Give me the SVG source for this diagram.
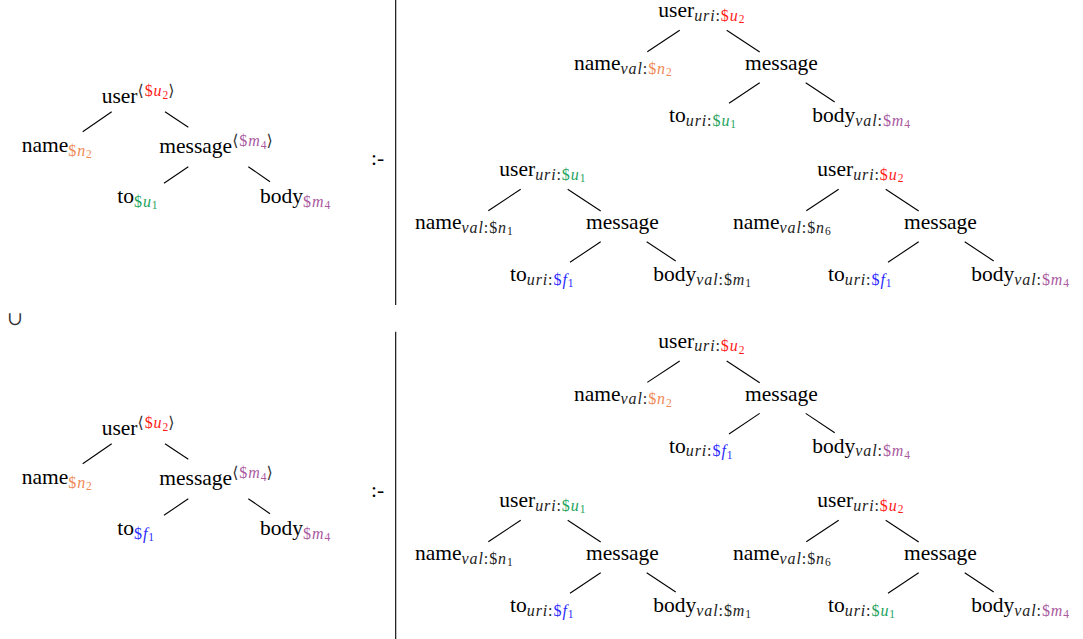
<svg xmlns="http://www.w3.org/2000/svg" width="1083" height="639" viewBox="0 0 1083 639">
<style>
.t{font-family:"Liberation Serif","DejaVu Serif",serif;font-size:21.5px;fill:#000}
.s{font-size:16px;letter-spacing:0.9px}
.ss{font-size:11.5px}
.i{font-style:italic}
.k{fill:#222}
.r{fill:#ff1a1a}
.g{fill:#22a35c}
.o{fill:#f08a55}
.p{fill:#aa5aa0}
.b{fill:#2b2bff}
.br{fill:#333}
.cn line{stroke:#000;stroke-width:1.1}
.sep{stroke:#000;stroke-width:1.1}
</style>
<rect width="1083" height="639" fill="#fff"/>

<!-- separators -->
<line class="sep" x1="395.7" y1="0" x2="395.7" y2="305"/>
<line class="sep" x1="395.7" y1="331.7" x2="395.7" y2="639"/>
<text class="t" x="371" y="165">:-</text>
<text class="t" x="371" y="497">:-</text>
<text x="7" y="325" style="font-family:'DejaVu Serif',serif;font-size:19px;fill:#333">∪</text>

<!-- left tree upper -->
<g id="lhs1">
  <g id="lhs1-user"><text class="t" x="101.7" y="103">user<tspan class="s br" dy="-7">⟨</tspan><tspan class="s r">$</tspan><tspan class="s i r">u</tspan><tspan class="ss r" dy="2.5">2</tspan><tspan class="s br" dy="-2.5">⟩</tspan></text></g>
  <g id="lhs1-name"><text class="t" x="21.7" y="152">name<tspan class="s o" dy="3.5">$</tspan><tspan class="s i o">n</tspan><tspan class="ss o" dy="2.5">2</tspan></text></g>
  <g id="lhs1-message"><text class="t" x="159.3" y="153">message<tspan class="s br" dy="-7">⟨</tspan><tspan class="s p">$</tspan><tspan class="s i p">m</tspan><tspan class="ss p" dy="2.5">4</tspan><tspan class="s br" dy="-2.5">⟩</tspan></text></g>
  <g id="lhs1-to"><text class="t" x="117.3" y="203">to<tspan class="s g" dy="3.5">$</tspan><tspan class="s i g">u</tspan><tspan class="ss g" dy="2.5">1</tspan></text></g>
  <g id="lhs1-body"><text class="t" x="260" y="203">body<tspan class="s p" dy="3.5">$</tspan><tspan class="s i p">m</tspan><tspan class="ss p" dy="2.5">4</tspan></text></g>
  <g class="cn">
    <line x1="111.7" y1="111.7" x2="82.7" y2="131.7"/>
    <line x1="165" y1="111.7" x2="188.3" y2="127.3"/>
    <line x1="188.3" y1="166.7" x2="164" y2="183.3"/>
    <line x1="248.3" y1="166.7" x2="270" y2="181.7"/>
  </g>
</g>

<!-- left tree lower -->
<g id="lhs2" transform="translate(0,332)">
  <g id="lhs2-user"><text class="t" x="101.7" y="103">user<tspan class="s br" dy="-7">⟨</tspan><tspan class="s r">$</tspan><tspan class="s i r">u</tspan><tspan class="ss r" dy="2.5">2</tspan><tspan class="s br" dy="-2.5">⟩</tspan></text></g>
  <g id="lhs2-name"><text class="t" x="21.7" y="152">name<tspan class="s o" dy="3.5">$</tspan><tspan class="s i o">n</tspan><tspan class="ss o" dy="2.5">2</tspan></text></g>
  <g id="lhs2-message"><text class="t" x="159.3" y="153">message<tspan class="s br" dy="-7">⟨</tspan><tspan class="s p">$</tspan><tspan class="s i p">m</tspan><tspan class="ss p" dy="2.5">4</tspan><tspan class="s br" dy="-2.5">⟩</tspan></text></g>
  <g id="lhs2-to"><text class="t" x="117.3" y="203">to<tspan class="s b" dy="3.5">$</tspan><tspan class="s i b">f</tspan><tspan class="ss b" dy="2.5">1</tspan></text></g>
  <g id="lhs2-body"><text class="t" x="260" y="203">body<tspan class="s p" dy="3.5">$</tspan><tspan class="s i p">m</tspan><tspan class="ss p" dy="2.5">4</tspan></text></g>
  <g class="cn">
    <line x1="111.7" y1="111.7" x2="82.7" y2="131.7"/>
    <line x1="165" y1="111.7" x2="188.3" y2="127.3"/>
    <line x1="188.3" y1="166.7" x2="164" y2="183.3"/>
    <line x1="248.3" y1="166.7" x2="270" y2="181.7"/>
  </g>
</g>

<!-- right trees -->
<g id="t1" transform="translate(159,-159)">
  <g id="t1-user"><text class="t" x="499.3" y="176">user<tspan class="s i k" dy="3.5">uri</tspan><tspan class="s k">:</tspan><tspan class="s r">$</tspan><tspan class="s i r">u</tspan><tspan class="ss r" dy="2.5">2</tspan></text></g>
  <g id="t1-name"><text class="t" x="415" y="229">name<tspan class="s i k" dy="3.5">val</tspan><tspan class="s k">:</tspan><tspan class="s o">$</tspan><tspan class="s i o">n</tspan><tspan class="ss o" dy="2.5">2</tspan></text></g>
  <g id="t1-message"><text class="t" x="586" y="229">message</text></g>
  <g id="t1-to"><text class="t" x="510" y="281">to<tspan class="s i k" dy="3.5">uri</tspan><tspan class="s k">:</tspan><tspan class="s g">$</tspan><tspan class="s i g">u</tspan><tspan class="ss g" dy="2.5">1</tspan></text></g>
  <g id="t1-body"><text class="t" x="653.3" y="281">body<tspan class="s i k" dy="3.5">val</tspan><tspan class="s k">:</tspan><tspan class="s p">$</tspan><tspan class="s i p">m</tspan><tspan class="ss p" dy="2.5">4</tspan></text></g>
  <g class="cn">
    <line x1="520.7" y1="189.3" x2="488.3" y2="210.7"/>
    <line x1="567.7" y1="189.3" x2="600.7" y2="211"/>
    <line x1="600.7" y1="241.7" x2="570" y2="262.3"/>
    <line x1="646.7" y1="241.7" x2="675.7" y2="261"/>
  </g>
</g>

<g id="t2">
  <g id="t2-user"><text class="t" x="499.3" y="176">user<tspan class="s i k" dy="3.5">uri</tspan><tspan class="s k">:</tspan><tspan class="s g">$</tspan><tspan class="s i g">u</tspan><tspan class="ss g" dy="2.5">1</tspan></text></g>
  <g id="t2-name"><text class="t" x="415" y="229">name<tspan class="s i k" dy="3.5">val</tspan><tspan class="s k">:$</tspan><tspan class="s i k">n</tspan><tspan class="ss k" dy="2.5">1</tspan></text></g>
  <g id="t2-message"><text class="t" x="586" y="229">message</text></g>
  <g id="t2-to"><text class="t" x="510" y="281">to<tspan class="s i k" dy="3.5">uri</tspan><tspan class="s k">:</tspan><tspan class="s b">$</tspan><tspan class="s i b">f</tspan><tspan class="ss b" dy="2.5">1</tspan></text></g>
  <g id="t2-body"><text class="t" x="653.3" y="281">body<tspan class="s i k" dy="3.5">val</tspan><tspan class="s k">:$</tspan><tspan class="s i k">m</tspan><tspan class="ss k" dy="2.5">1</tspan></text></g>
  <g class="cn">
    <line x1="520.7" y1="189.3" x2="488.3" y2="210.7"/>
    <line x1="567.7" y1="189.3" x2="600.7" y2="211"/>
    <line x1="600.7" y1="241.7" x2="570" y2="262.3"/>
    <line x1="646.7" y1="241.7" x2="675.7" y2="261"/>
  </g>
</g>

<g id="t3" transform="translate(318,0)">
  <g id="t3-user"><text class="t" x="499.3" y="176">user<tspan class="s i k" dy="3.5">uri</tspan><tspan class="s k">:</tspan><tspan class="s r">$</tspan><tspan class="s i r">u</tspan><tspan class="ss r" dy="2.5">2</tspan></text></g>
  <g id="t3-name"><text class="t" x="415" y="229">name<tspan class="s i k" dy="3.5">val</tspan><tspan class="s k">:$</tspan><tspan class="s i k">n</tspan><tspan class="ss k" dy="2.5">6</tspan></text></g>
  <g id="t3-message"><text class="t" x="586" y="229">message</text></g>
  <g id="t3-to"><text class="t" x="510" y="281">to<tspan class="s i k" dy="3.5">uri</tspan><tspan class="s k">:</tspan><tspan class="s b">$</tspan><tspan class="s i b">f</tspan><tspan class="ss b" dy="2.5">1</tspan></text></g>
  <g id="t3-body"><text class="t" x="653.3" y="281">body<tspan class="s i k" dy="3.5">val</tspan><tspan class="s k">:</tspan><tspan class="s p">$</tspan><tspan class="s i p">m</tspan><tspan class="ss p" dy="2.5">4</tspan></text></g>
  <g class="cn">
    <line x1="520.7" y1="189.3" x2="488.3" y2="210.7"/>
    <line x1="567.7" y1="189.3" x2="600.7" y2="211"/>
    <line x1="600.7" y1="241.7" x2="570" y2="262.3"/>
    <line x1="646.7" y1="241.7" x2="675.7" y2="261"/>
  </g>
</g>

<g id="t4" transform="translate(159,171.7)">
  <g id="t4-user"><text class="t" x="499.3" y="176">user<tspan class="s i k" dy="3.5">uri</tspan><tspan class="s k">:</tspan><tspan class="s r">$</tspan><tspan class="s i r">u</tspan><tspan class="ss r" dy="2.5">2</tspan></text></g>
  <g id="t4-name"><text class="t" x="415" y="229">name<tspan class="s i k" dy="3.5">val</tspan><tspan class="s k">:</tspan><tspan class="s o">$</tspan><tspan class="s i o">n</tspan><tspan class="ss o" dy="2.5">2</tspan></text></g>
  <g id="t4-message"><text class="t" x="586" y="229">message</text></g>
  <g id="t4-to"><text class="t" x="510" y="281">to<tspan class="s i k" dy="3.5">uri</tspan><tspan class="s k">:</tspan><tspan class="s b">$</tspan><tspan class="s i b">f</tspan><tspan class="ss b" dy="2.5">1</tspan></text></g>
  <g id="t4-body"><text class="t" x="653.3" y="281">body<tspan class="s i k" dy="3.5">val</tspan><tspan class="s k">:</tspan><tspan class="s p">$</tspan><tspan class="s i p">m</tspan><tspan class="ss p" dy="2.5">4</tspan></text></g>
  <g class="cn">
    <line x1="520.7" y1="189.3" x2="488.3" y2="210.7"/>
    <line x1="567.7" y1="189.3" x2="600.7" y2="211"/>
    <line x1="600.7" y1="241.7" x2="570" y2="262.3"/>
    <line x1="646.7" y1="241.7" x2="675.7" y2="261"/>
  </g>
</g>

<g id="t5" transform="translate(0,331)">
  <g id="t5-user"><text class="t" x="499.3" y="176">user<tspan class="s i k" dy="3.5">uri</tspan><tspan class="s k">:</tspan><tspan class="s g">$</tspan><tspan class="s i g">u</tspan><tspan class="ss g" dy="2.5">1</tspan></text></g>
  <g id="t5-name"><text class="t" x="415" y="229">name<tspan class="s i k" dy="3.5">val</tspan><tspan class="s k">:$</tspan><tspan class="s i k">n</tspan><tspan class="ss k" dy="2.5">1</tspan></text></g>
  <g id="t5-message"><text class="t" x="586" y="229">message</text></g>
  <g id="t5-to"><text class="t" x="510" y="281">to<tspan class="s i k" dy="3.5">uri</tspan><tspan class="s k">:</tspan><tspan class="s b">$</tspan><tspan class="s i b">f</tspan><tspan class="ss b" dy="2.5">1</tspan></text></g>
  <g id="t5-body"><text class="t" x="653.3" y="281">body<tspan class="s i k" dy="3.5">val</tspan><tspan class="s k">:$</tspan><tspan class="s i k">m</tspan><tspan class="ss k" dy="2.5">1</tspan></text></g>
  <g class="cn">
    <line x1="520.7" y1="189.3" x2="488.3" y2="210.7"/>
    <line x1="567.7" y1="189.3" x2="600.7" y2="211"/>
    <line x1="600.7" y1="241.7" x2="570" y2="262.3"/>
    <line x1="646.7" y1="241.7" x2="675.7" y2="261"/>
  </g>
</g>

<g id="t6" transform="translate(318,331)">
  <g id="t6-user"><text class="t" x="499.3" y="176">user<tspan class="s i k" dy="3.5">uri</tspan><tspan class="s k">:</tspan><tspan class="s r">$</tspan><tspan class="s i r">u</tspan><tspan class="ss r" dy="2.5">2</tspan></text></g>
  <g id="t6-name"><text class="t" x="415" y="229">name<tspan class="s i k" dy="3.5">val</tspan><tspan class="s k">:$</tspan><tspan class="s i k">n</tspan><tspan class="ss k" dy="2.5">6</tspan></text></g>
  <g id="t6-message"><text class="t" x="586" y="229">message</text></g>
  <g id="t6-to"><text class="t" x="510" y="281">to<tspan class="s i k" dy="3.5">uri</tspan><tspan class="s k">:</tspan><tspan class="s g">$</tspan><tspan class="s i g">u</tspan><tspan class="ss g" dy="2.5">1</tspan></text></g>
  <g id="t6-body"><text class="t" x="653.3" y="281">body<tspan class="s i k" dy="3.5">val</tspan><tspan class="s k">:</tspan><tspan class="s p">$</tspan><tspan class="s i p">m</tspan><tspan class="ss p" dy="2.5">4</tspan></text></g>
  <g class="cn">
    <line x1="520.7" y1="189.3" x2="488.3" y2="210.7"/>
    <line x1="567.7" y1="189.3" x2="600.7" y2="211"/>
    <line x1="600.7" y1="241.7" x2="570" y2="262.3"/>
    <line x1="646.7" y1="241.7" x2="675.7" y2="261"/>
  </g>
</g>
</svg>
